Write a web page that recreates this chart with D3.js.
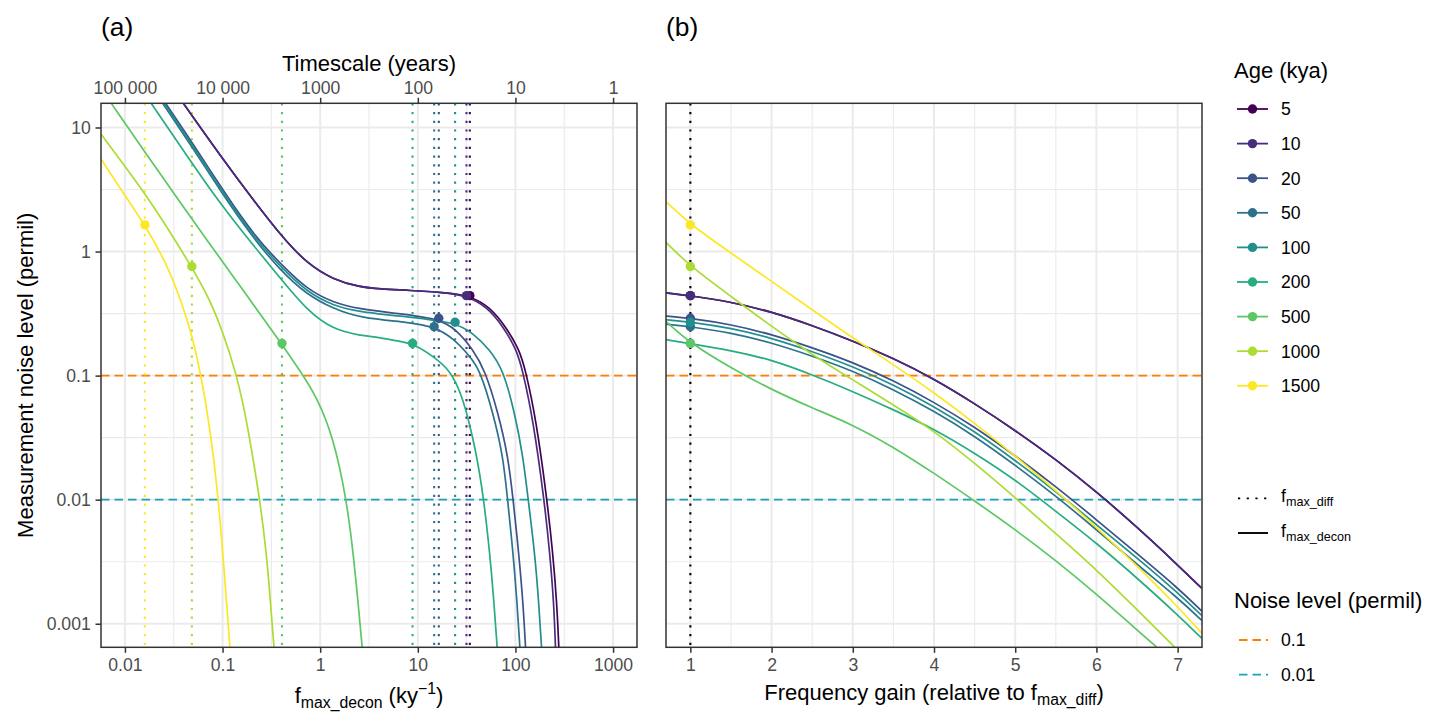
<!DOCTYPE html>
<html>
<head>
<meta charset="utf-8">
<script src="https://cdn.jsdelivr.net/npm/d3@7"></script>
<style>
  body { margin: 0; background: #fff; }
  text { font-family: "Liberation Sans", Arial, sans-serif; }
</style>
</head>
<body>
<div id="viz"></div>
<script>
// ---- data ----
const ages = [5, 10, 20, 50, 100, 200, 500, 1000, 1500];
const ageColors = ['#440154', '#472D7B', '#3B528B', '#2C728E', '#21908C', '#27AD81', '#5DC863', '#AADC32', '#FDE725'];

// f_max_diff (ky^-1) and noise level there (permil)
const fMaxDiff = [34.1, 31.5, 16.4, 14.7, 24.1, 8.83, 0.406, 0.0485, 0.0160];
const noiseAtDiff = [0.441, 0.441, 0.290, 0.248, 0.269, 0.182, 0.182, 0.758, 1.64];

// panel (a): f_max_decon (ky^-1) vs measurement noise (permil)
const decon5F = [0.0395, 0.1016, 0.2061, 0.4027, 0.7244, 1.358, 2.547, 4.083, 8.279, 18.16, 34.1, 53.7, 79.43, 109.6, 126.5, 162.9, 210.4, 241.5, 265.5, 278.0];
const decon5Noise = [15.74, 5.495, 2.612, 1.324, 0.8072, 0.5929, 0.5176, 0.4989, 0.4864, 0.4677, 0.4406, 0.3614, 0.2489, 0.1618, 0.1117, 0.04416, 0.01005, 0.00372, 0.00147, 0.00065];
const decon10F = [0.0395, 0.1016, 0.2061, 0.4027, 0.7244, 1.358, 2.547, 4.083, 8.279, 18.16, 31.55, 50.47, 74.82, 102.6, 118.0, 151.7, 196.8, 224.9, 247.2, 257.0];
const decon10Noise = [15.74, 5.495, 2.612, 1.324, 0.8072, 0.5929, 0.5176, 0.4989, 0.4864, 0.4677, 0.4406, 0.3614, 0.2489, 0.1618, 0.1117, 0.04416, 0.01005, 0.00372, 0.00147, 0.00065];
const decon20F = [0.026, 0.0519, 0.1054, 0.2138, 0.4169, 0.7244, 1.358, 2.547, 5.585, 16.41, 24.89, 36.81, 48.53, 66.53, 84.14, 94.6, 108.1, 119.7, 126.8];
const decon20Noise = [15.74, 7.031, 2.958, 1.324, 0.7586, 0.5012, 0.3864, 0.3443, 0.3192, 0.2891, 0.2344, 0.1618, 0.1117, 0.05, 0.02234, 0.01005, 0.00372, 0.00147, 0.00065];
const decon50F = [0.02427, 0.04842, 0.0984, 0.1995, 0.389, 0.7244, 1.358, 2.547, 8.279, 14.69, 23.01, 34.12, 43.15, 59.02, 74.82, 82.99, 94.62, 104.0, 110.9];
const decon50Noise = [15.74, 7.031, 2.958, 1.324, 0.7079, 0.4519, 0.3467, 0.2911, 0.2685, 0.2477, 0.2009, 0.1429, 0.1117, 0.05, 0.02234, 0.01005, 0.00372, 0.00147, 0.00065];
const decon100F = [0.02506, 0.05, 0.1016, 0.2061, 0.4027, 0.7244, 1.358, 2.547, 8.279, 24.1, 36.81, 54.58, 74.82, 98.4, 119.7, 134.9, 157.8, 173.4, 184.9];
const decon100Noise = [15.74, 7.031, 2.958, 1.324, 0.7362, 0.4764, 0.3656, 0.3258, 0.2965, 0.2685, 0.2203, 0.1618, 0.1117, 0.05, 0.02234, 0.01005, 0.00372, 0.00147, 0.00065];
const decon200F = [0.01858, 0.03715, 0.0754, 0.1627, 0.4027, 0.724, 1.358, 2.547, 4.083, 5.585, 8.83, 14.35, 21.28, 29.11, 39.9, 47.4, 54.6, 60.4, 64.9];
const decon200Noise = [15.7, 7.03, 3.108, 1.409, 0.593, 0.34, 0.2344, 0.2109, 0.2032, 0.1923, 0.1832, 0.1429, 0.1117, 0.0679, 0.0238, 0.01005, 0.00372, 0.00147, 0.00065];
const decon500F = [0.00731, 0.01542, 0.0463, 0.1285, 0.403, 0.631, 0.918, 1.358, 1.862, 2.178, 2.449, 2.69];
const decon500Noise = [15.5, 6.61, 1.919, 0.63, 0.1807, 0.1072, 0.0679, 0.0324, 0.01005, 0.00372, 0.00147, 0.00065];
const decon1000F = [0.00577, 0.00889, 0.018, 0.0482, 0.0741, 0.1016, 0.138, 0.176, 0.214, 0.24, 0.282, 0.31, 0.336];
const decon1000Noise = [8.73, 5.5, 2.61, 0.759, 0.409, 0.22, 0.105, 0.0442, 0.0175, 0.01005, 0.00372, 0.00147, 0.00065];
const decon1500F = [0.00577, 0.00889, 0.016, 0.0267, 0.0395, 0.05, 0.0582, 0.0676, 0.0802, 0.0902, 0.1016, 0.1099, 0.1189];
const decon1500Noise = [5.5, 3.25, 1.644, 0.807, 0.361, 0.1945, 0.1117, 0.0601, 0.0238, 0.01005, 0.00349, 0.00147, 0.00065];

// panel (b): frequency gain (relative to f_max_diff) vs noise (permil)
const gainSteps = [0.7, 1, 1.5, 2, 2.5, 3, 3.5, 4, 4.5, 5, 5.5, 6, 6.5, 7, 7.3];
const gain5Noise = [0.464, 0.441, 0.393, 0.3268, 0.2537, 0.1903, 0.1378, 0.0943, 0.0595, 0.03626, 0.02111, 0.0116, 0.00602, 0.00298, 0.001925];
const gain10Noise = [0.464, 0.441, 0.393, 0.3268, 0.2537, 0.1903, 0.1378, 0.0943, 0.0595, 0.03626, 0.02111, 0.0116, 0.00602, 0.00298, 0.001925];
const gain20Noise = [0.302, 0.29, 0.259, 0.215, 0.168, 0.128, 0.0912, 0.0612, 0.0386, 0.0226, 0.0128, 0.0069, 0.00367, 0.00195, 0.00126];
const gain50Noise = [0.26, 0.248, 0.222, 0.184, 0.144, 0.109, 0.0775, 0.0518, 0.0326, 0.019, 0.0107, 0.00575, 0.003, 0.00162, 0.00106];
const gain100Noise = [0.282, 0.2704, 0.2418, 0.2009, 0.1567, 0.1186, 0.0845, 0.0565, 0.0355, 0.02073, 0.01167, 0.00629, 0.00339, 0.00178, 0.00116];
const gain200Noise = [0.1947, 0.1807, 0.1596, 0.1343, 0.1017, 0.0746, 0.0531, 0.0372, 0.02378, 0.0145, 0.00805, 0.00448, 0.00234, 0.00118, 0.00076];
const gain500Steps = [0.7, 1, 1.5, 2, 2.5, 3, 3.5, 4, 4.5, 5, 5.5, 6, 6.5, 6.74];
const gain500Noise = [0.2734, 0.182, 0.1151, 0.077, 0.0548, 0.0402, 0.02655, 0.01637, 0.00977, 0.00575, 0.00324, 0.00174, 0.00089, 0.00065];
const gain1000Steps = [0.7, 1, 1.5, 2, 2.5, 3, 3.5, 4, 4.5, 5, 5.5, 6, 6.5, 6.96];
const gain1000Noise = [1.184, 0.758, 0.4346, 0.2491, 0.1474, 0.0923, 0.0582, 0.0359, 0.01972, 0.01038, 0.00532, 0.00273, 0.0013, 0.00065];
const gain1500Noise = [2.53, 1.65, 0.973, 0.574, 0.34, 0.201, 0.1225, 0.073, 0.04152, 0.02255, 0.01183, 0.006, 0.00294, 0.001375, 0.000836];

// noise levels (horizontal lines)
const noiseLevels = [0.1, 0.01];
const noiseLabels = ['0.1', '0.01'];
const noiseColors = ['#FF7F00', '#1CA0BE'];

// ticks
const xTickValues = [0.01, 0.1, 1, 10, 100, 1000];
const xTickLabels = ['0.01', '0.1', '1', '10', '100', '1000'];
const yearTickValues = [100000, 10000, 1000, 100, 10, 1];
const yearTickLabels = ['100 000', '10 000', '1000', '100', '10', '1'];
const yTickValues = [0.001, 0.01, 0.1, 1, 10];
const yTickLabels = ['0.001', '0.01', '0.1', '1', '10'];
const gainTickValues = [1, 2, 3, 4, 5, 6, 7];

// ---- layout ----
const width = 1437;
const height = 725;
const panelA = {left: 101, right: 637, top: 103.3, bottom: 647.3};
const panelB = {left: 666, right: 1202, top: 103.3, bottom: 647.3};
const tickFont = 17.6;
const titleFont = 22;
const gridColor = '#EBEBEB';
const inkColor = '#333333';
const tickTextColor = '#4D4D4D';
const dotted = '2.2,6.5';
const dashed = '8.5,5';

const deconSeries = [
  {f: decon5F, noise: decon5Noise, gain: gainSteps, gainNoise: gain5Noise},
  {f: decon10F, noise: decon10Noise, gain: gainSteps, gainNoise: gain10Noise},
  {f: decon20F, noise: decon20Noise, gain: gainSteps, gainNoise: gain20Noise},
  {f: decon50F, noise: decon50Noise, gain: gainSteps, gainNoise: gain50Noise},
  {f: decon100F, noise: decon100Noise, gain: gainSteps, gainNoise: gain100Noise},
  {f: decon200F, noise: decon200Noise, gain: gainSteps, gainNoise: gain200Noise},
  {f: decon500F, noise: decon500Noise, gain: gain500Steps, gainNoise: gain500Noise},
  {f: decon1000F, noise: decon1000Noise, gain: gain1000Steps, gainNoise: gain1000Noise},
  {f: decon1500F, noise: decon1500Noise, gain: gainSteps, gainNoise: gain1500Noise}
].map((s, i) => ({
  age: ages[i],
  color: ageColors[i],
  fmd: fMaxDiff[i],
  dot: noiseAtDiff[i],
  ptsA: s.f.map((f, j) => [f, s.noise[j]]),
  ptsB: s.gain.map((g, j) => [g, s.gainNoise[j]])
}));

// ---- scales ----
const x = d3.scaleLog()
  .domain([Math.pow(10, -2.245), Math.pow(10, 3.245)])
  .range([panelA.left, panelA.right]);
const xYears = d3.scaleLog()
  .domain([1000 / x.domain()[0], 1000 / x.domain()[1]])
  .range([panelA.left, panelA.right]);
const y = d3.scaleLog()
  .domain([Math.pow(10, -3.19), Math.pow(10, 1.195)])
  .range([panelA.bottom, panelA.top]);
const xGain = d3.scaleLinear()
  .domain([0.7, 7.3])
  .range([panelB.left, panelB.right]);

const svg = d3.select('#viz')
  .append('svg')
  .attr('width', width)
  .attr('height', height)
  .style('background', '#fff');

const defs = svg.append('defs');
[['clipA', panelA], ['clipB', panelB]].forEach(([id, p]) => {
  defs.append('clipPath').attr('id', id)
    .append('rect')
    .attr('x', p.left).attr('y', p.top)
    .attr('width', p.right - p.left).attr('height', p.bottom - p.top);
});

// gridlines
const yMinor = [-2.5, -1.5, -0.5, 0.5].map(e => Math.pow(10, e));
const xMinor = [-1.5, -0.5, 0.5, 1.5, 2.5].map(e => Math.pow(10, e));
const gainMinor = [1.5, 2.5, 3.5, 4.5, 5.5, 6.5];

function grid(g, p, xs, xScale, w) {
  g.selectAll(null).data(xs).join('line')
    .attr('x1', d => xScale(d)).attr('x2', d => xScale(d))
    .attr('y1', p.top).attr('y2', p.bottom)
    .attr('stroke', gridColor).attr('stroke-width', w);
}
function gridY(g, p, ys, w) {
  g.selectAll(null).data(ys).join('line')
    .attr('x1', p.left).attr('x2', p.right)
    .attr('y1', d => y(d)).attr('y2', d => y(d))
    .attr('stroke', gridColor).attr('stroke-width', w);
}

const gA = svg.append('g').attr('clip-path', 'url(#clipA)');
const gB = svg.append('g').attr('clip-path', 'url(#clipB)');

grid(gA, panelA, xMinor, x, 1.1);
gridY(gA, panelA, yMinor, 1.1);
grid(gA, panelA, xTickValues, x, 2);
gridY(gA, panelA, yTickValues, 2);

grid(gB, panelB, gainMinor, xGain, 1.1);
gridY(gB, panelB, yMinor, 1.1);
grid(gB, panelB, gainTickValues, xGain, 2);
gridY(gB, panelB, yTickValues, 2);

// noise levels
[[gA, panelA], [gB, panelB]].forEach(([g, p]) => {
  g.selectAll(null).data(noiseLevels).join('line')
    .attr('x1', p.left).attr('x2', p.right)
    .attr('y1', d => y(d)).attr('y2', d => y(d))
    .attr('stroke', (d, i) => noiseColors[i])
    .attr('stroke-width', 1.9)
    .attr('stroke-dasharray', dashed);
});

// f_max_diff dotted lines
gA.selectAll('.fmd').data(deconSeries).join('line')
  .attr('class', 'fmd')
  .attr('x1', d => x(d.fmd)).attr('x2', d => x(d.fmd))
  .attr('y1', panelA.top).attr('y2', panelA.bottom)
  .attr('stroke', d => d.color)
  .attr('stroke-width', 2.1)
  .attr('stroke-dasharray', dotted);

gB.append('line')
  .attr('x1', xGain(1)).attr('x2', xGain(1))
  .attr('y1', panelB.top).attr('y2', panelB.bottom)
  .attr('stroke', '#000')
  .attr('stroke-width', 2.1)
  .attr('stroke-dasharray', dotted);

// curves (B-spline through the read points)
const lineA = d3.line().x(d => x(d[0])).y(d => y(d[1])).curve(d3.curveBasis);
const lineB = d3.line().x(d => xGain(d[0])).y(d => y(d[1])).curve(d3.curveBasis);

gA.selectAll('.curve').data(deconSeries).join('path')
  .attr('class', 'curve')
  .attr('d', d => lineA(d.ptsA))
  .attr('fill', 'none')
  .attr('stroke', d => d.color)
  .attr('stroke-width', 1.7);

gB.selectAll('.curve').data(deconSeries).join('path')
  .attr('class', 'curve')
  .attr('d', d => lineB(d.ptsB))
  .attr('fill', 'none')
  .attr('stroke', d => d.color)
  .attr('stroke-width', 1.7);

// points at f_max_diff
gA.selectAll('.dot').data(deconSeries).join('circle')
  .attr('class', 'dot')
  .attr('cx', d => x(d.fmd)).attr('cy', d => y(d.dot))
  .attr('r', 4.7)
  .attr('fill', d => d.color);

gB.selectAll('.dot').data(deconSeries).join('circle')
  .attr('class', 'dot')
  .attr('cx', xGain(1)).attr('cy', d => y(d.dot))
  .attr('r', 4.7)
  .attr('fill', d => d.color);

// panel borders
[panelA, panelB].forEach(p => {
  svg.append('rect')
    .attr('x', p.left).attr('y', p.top)
    .attr('width', p.right - p.left).attr('height', p.bottom - p.top)
    .attr('fill', 'none')
    .attr('stroke', inkColor)
    .attr('stroke-width', 1.5);
});

// axes
function styleAxis(g) {
  g.select('.domain').remove();
  g.selectAll('.tick line').attr('stroke', inkColor).attr('stroke-width', 1.5);
  g.selectAll('.tick text')
    .attr('fill', tickTextColor)
    .style('font-size', tickFont + 'px')
    .style('font-family', '"Liberation Sans", Arial, sans-serif');
}

svg.append('g')
  .attr('transform', `translate(0,${panelA.bottom})`)
  .call(d3.axisBottom(x).tickValues(xTickValues)
    .tickFormat((d, i) => xTickLabels[i]).tickSize(5.5).tickPadding(6.2))
  .call(styleAxis);

svg.append('g')
  .attr('transform', `translate(0,${panelA.top})`)
  .call(d3.axisTop(xYears).tickValues(yearTickValues)
    .tickFormat((d, i) => yearTickLabels[i]).tickSize(5.5).tickPadding(4.3))
  .call(styleAxis);

svg.append('g')
  .attr('transform', `translate(${panelA.left},0)`)
  .call(d3.axisLeft(y).tickValues(yTickValues)
    .tickFormat((d, i) => yTickLabels[i]).tickSize(5.5).tickPadding(4.8))
  .call(styleAxis);

svg.append('g')
  .attr('transform', `translate(0,${panelB.bottom})`)
  .call(d3.axisBottom(xGain).tickValues(gainTickValues)
    .tickFormat(d3.format('d')).tickSize(5.5).tickPadding(6.2))
  .call(styleAxis);

// titles
const midA = (panelA.left + panelA.right) / 2;
const midB = (panelB.left + panelB.right) / 2;

svg.append('text')
  .attr('x', midA).attr('y', 70.5)
  .attr('text-anchor', 'middle')
  .style('font-size', titleFont + 'px')
  .text('Timescale (years)');

const xtA = svg.append('text')
  .attr('x', midA).attr('y', 703)
  .attr('text-anchor', 'middle')
  .style('font-size', titleFont + 'px');
xtA.append('tspan').text('f');
xtA.append('tspan').attr('dy', 4.5).style('font-size', '15.8px').text('max_decon');
xtA.append('tspan').attr('dy', -4.5).text(' (ky');
xtA.append('tspan').attr('dy', -9).style('font-size', '15.8px').text('\u22121');
xtA.append('tspan').attr('dy', 9).text(')');

const xtB = svg.append('text')
  .attr('x', midB).attr('y', 700)
  .attr('text-anchor', 'middle')
  .style('font-size', titleFont + 'px');
xtB.append('tspan').text('Frequency gain (relative to f');
xtB.append('tspan').attr('dy', 4.5).style('font-size', '15.8px').text('max_diff');
xtB.append('tspan').attr('dy', -4.5).text(')');

svg.append('text')
  .attr('transform', `translate(33,${(panelA.top + panelA.bottom) / 2}) rotate(-90)`)
  .attr('text-anchor', 'middle')
  .style('font-size', titleFont + 'px')
  .text('Measurement noise level (permil)');

svg.append('text').attr('x', panelA.left).attr('y', 35.5)
  .style('font-size', '26.4px').text('(a)');
svg.append('text').attr('x', panelB.left).attr('y', 35.5)
  .style('font-size', '26.4px').text('(b)');

// ---- legends ----
const legX = 1234;
const keyX0 = 1237;
const keyX1 = 1268;
const labelX = 1281;
const legStep = 34.6;

svg.append('text').attr('x', legX).attr('y', 78)
  .style('font-size', titleFont + 'px').text('Age (kya)');

const ageKeys = svg.append('g').selectAll('g').data(ages).join('g')
  .attr('transform', (d, i) => `translate(0,${109 + i * legStep})`);
ageKeys.append('line')
  .attr('x1', keyX0).attr('x2', keyX1)
  .attr('stroke', (d, i) => ageColors[i]).attr('stroke-width', 1.8);
ageKeys.append('circle')
  .attr('cx', (keyX0 + keyX1) / 2).attr('r', 4.7)
  .attr('fill', (d, i) => ageColors[i]);
ageKeys.append('text')
  .attr('x', labelX).attr('y', 6.3)
  .style('font-size', tickFont + 'px')
  .text(d => d);

// line type legend
const typeKeys = [
  {dash: dotted, sub: 'max_diff'},
  {dash: null, sub: 'max_decon'}
];
const typeG = svg.append('g').selectAll('g').data(typeKeys).join('g')
  .attr('transform', (d, i) => `translate(0,${498.4 + i * legStep})`);
typeG.append('line')
  .attr('x1', keyX0 + 1).attr('x2', keyX1)
  .attr('stroke', '#000').attr('stroke-width', 1.9)
  .attr('stroke-dasharray', d => d.dash);
const typeText = typeG.append('text')
  .attr('x', labelX).attr('y', 4)
  .style('font-size', tickFont + 'px');
typeText.append('tspan').text('f');
typeText.append('tspan').attr('dy', 4).style('font-size', '12.6px').text(d => d.sub);

// noise legend
svg.append('text').attr('x', legX).attr('y', 608)
  .style('font-size', titleFont + 'px').text('Noise level (permil)');
const noiseKeys = svg.append('g').selectAll('g').data(noiseLabels).join('g')
  .attr('transform', (d, i) => `translate(0,${640 + i * legStep})`);
noiseKeys.append('line')
  .attr('x1', keyX0 + 2).attr('x2', keyX1)
  .attr('stroke', (d, i) => noiseColors[i]).attr('stroke-width', 1.8)
  .attr('stroke-dasharray', dashed);
noiseKeys.append('text')
  .attr('x', labelX).attr('y', 6.3)
  .style('font-size', tickFont + 'px')
  .text(d => d);
</script>
</body>
</html>
